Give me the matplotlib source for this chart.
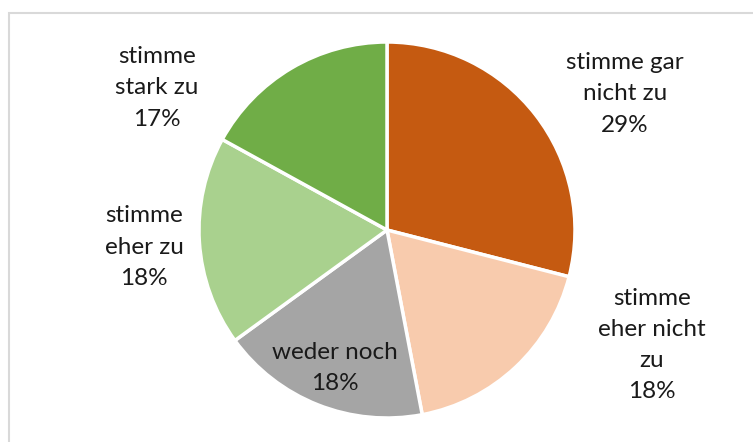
import matplotlib
matplotlib.use("Agg")
import matplotlib.pyplot as plt
from matplotlib.patches import Rectangle

categories = ["stimme gar\nnicht zu", "stimme\neher nicht\nzu", "weder noch",
              "stimme\neher zu", "stimme\nstark zu"]
values = [29, 18, 18, 18, 17]
colors = ["#C55A11", "#F8CBAD", "#A5A5A5", "#A9D18E", "#70AD47"]
# label centre positions (pixels, origin top-left)
label_pos = [(625, 94), (652, 345), (335, 368), (144, 247), (157, 88)]

W, H = 753, 442
fig = plt.figure(figsize=(W / 100, H / 100), dpi=100)
ax = fig.add_axes([0, 0, 1, 1])

cx, cy, r = 387, H - 230, 188
ax.pie(values, colors=colors, startangle=90, counterclock=False,
       center=(cx, cy), radius=r, frame=True,
       wedgeprops=dict(edgecolor="white", linewidth=2.5))
ax.set_xlim(0, W)
ax.set_ylim(0, H)
ax.axis("off")

for cat, v, (lx, ly) in zip(categories, values, label_pos):
    ax.text(lx, H - ly, f"{cat}\n{v}%", ha="center", va="center",
            fontsize=17.5, family="Lato", color="#1a1a1a", linespacing=1.6)

# chart frame (top and left edges visible)
fig.patches.append(Rectangle((8.5 / W, -0.1), 1.2, (H - 12.5) / H + 0.1,
                             transform=fig.transFigure, fill=False,
                             edgecolor="#D9D9D9", linewidth=1.5))

fig.savefig("out.png", dpi=100)
